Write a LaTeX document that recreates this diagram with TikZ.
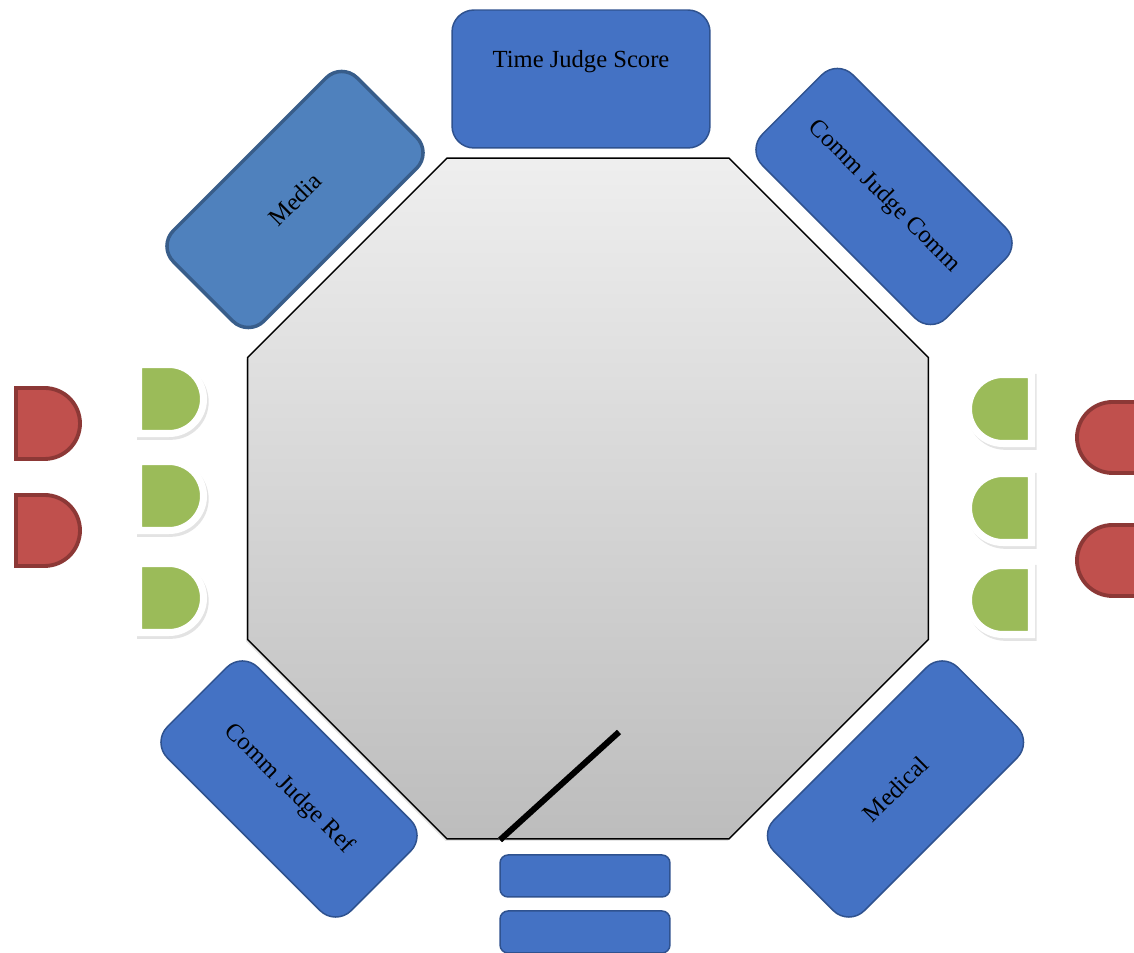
\documentclass[tikz,border=0pt]{standalone}
\usepackage{fontspec}
\setmainfont{Liberation Serif}
\usepackage{tikz}
\usetikzlibrary{shapes.geometric, shadows}

\definecolor{judgeblue}{HTML}{4472C4}
\definecolor{judgeline}{HTML}{2F528F}
\definecolor{mediablue}{HTML}{4F81BD}
\definecolor{medialine}{HTML}{385D8A}
\definecolor{seatgreen}{HTML}{9BBB59}
\definecolor{coachred}{HTML}{C0504D}
\definecolor{coachline}{HTML}{8C3836}

\begin{document}
\begin{tikzpicture}[
      x=0.02cm, y=0.02cm,
      judge/.style={rectangle, rounded corners=0.44cm, draw=judgeline, line width=0.85pt,
                    fill=judgeblue, minimum width=5.2cm, minimum height=2.56cm, inner sep=0pt},
      media/.style={judge, draw=medialine, fill=mediablue, line width=2pt},
      bench/.style={rectangle, rounded corners=0.16cm, draw=judgeline, line width=0.85pt,
                    fill=judgeblue, minimum width=3.4cm, minimum height=0.84cm},
      seat/.style={fill=seatgreen, draw=white, line width=4pt,
                   drop shadow={shadow scale=1.1, shadow xshift=1pt, shadow yshift=-1.5pt, opacity=0.22}},
      coach/.style={fill=coachred, draw=coachline, line width=2.2pt},
      every node/.style={font=\fontsize{14}{16}\selectfont}
    ]
        \useasboundingbox (0,0) rectangle (1134,953);
        % competition area
        \node[regular polygon, regular polygon sides=8, minimum size=14.74cm, inner sep=0pt,
              draw, line width=0.85pt, top color=gray!13, bottom color=gray!52,
              drop shadow={shadow xshift=-0.8pt, shadow yshift=-1.2pt, opacity=0.2}] (mat) at (588,454.5) {};
        % officials
        \node[judge, minimum width=5.16cm, minimum height=2.76cm,
              label={[yshift=0.34cm]center:Time Judge Score}] (timer) at (581,874) {};
        \node[media, rotate=45] (media) at (295,753.5) {Media};
        \node[judge, rotate=-45] (commjudge) at (884,756.5) {Comm Judge Comm};
        \node[judge, rotate=-45] (refjudge) at (289,164) {Comm Judge Ref};
        \node[judge, rotate=45] (medical) at (895.5,164) {Medical};
        \node[bench] (benchA) at (585,77) {};
        \node[bench] (benchB) at (585,21) {};
        \coordinate (stickA) at (500,113);
        \coordinate (stickB) at (619,221);
        \draw[line width=3.4pt, black!30, shift={(1.5,-1.5)}] (stickA) -- (stickB);
        \draw[line width=3.4pt] (stickA) -- (stickB);
        % seats
        \foreach \yc in {554,457,355}
            \draw[seat] (138.5,\yc-34.5) -- (169,\yc-34.5) arc[start angle=-90, end angle=90, radius=34.5]
                -- (138.5,\yc+34.5) -- cycle;
        \foreach \yc in {544,445,353}
            \draw[seat] (1031.5,\yc-34.5) -- (1003,\yc-34.5) arc[start angle=270, end angle=90, radius=34.5]
                -- (1031.5,\yc+34.5) -- cycle;
        % coaches
        \foreach \yc in {529.5,422.5}
            \draw[coach] (16,\yc-35.5) -- (44.5,\yc-35.5) arc[start angle=-90, end angle=90, radius=35.5]
                -- (16,\yc+35.5) -- cycle;
        \foreach \yc in {515.5,392.5}
            \draw[coach] (1160,\yc-35.5) -- (1112.5,\yc-35.5) arc[start angle=270, end angle=90, radius=35.5]
                -- (1160,\yc+35.5) -- cycle;
    \end{tikzpicture}
\end{document}
